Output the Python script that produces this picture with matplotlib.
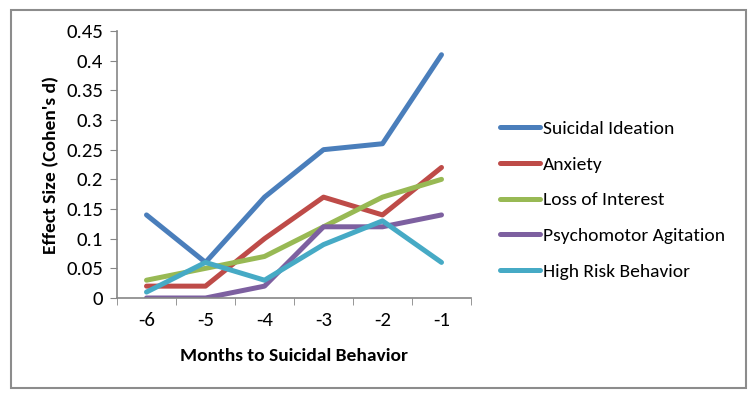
import matplotlib.pyplot as plt
from matplotlib.patches import Rectangle

plt.rcParams['font.family'] = ['Carlito', 'Lato', 'DejaVu Sans']

# data
months = [-6, -5, -4, -3, -2, -1]
suicidal_ideation = [0.14, 0.06, 0.17, 0.25, 0.26, 0.41]
anxiety = [0.02, 0.02, 0.10, 0.17, 0.14, 0.22]
loss_of_interest = [0.03, 0.05, 0.07, 0.12, 0.17, 0.20]
psychomotor = [0.0, 0.0, 0.02, 0.12, 0.12, 0.14]
high_risk = [0.01, 0.06, 0.03, 0.09, 0.13, 0.06]

series = [
    ('Suicidal Ideation', suicidal_ideation, '#4A7EBB'),
    ('Anxiety', anxiety, '#BE4B48'),
    ('Loss of Interest', loss_of_interest, '#98B954'),
    ('Psychomotor Agitation', psychomotor, '#7D60A0'),
    ('High Risk Behavior', high_risk, '#46AAC5'),
]

fig = plt.figure(figsize=(7.56, 4.0), dpi=100)
ax = fig.add_axes([117/756, 1 - 298/400, (471 - 117)/756, (298 - 31)/400])

x = range(1, len(months) + 1)
for name, vals, col in series:
    ax.plot(x, vals, color=col, lw=3.6, label=name, solid_capstyle='round')

axis_col = '#868686'
ax.set_xlim(0.5, len(months) + 0.5)
ax.set_ylim(0, 0.45)
ax.set_yticks([0, 0.05, 0.1, 0.15, 0.2, 0.25, 0.3, 0.35, 0.4, 0.45])
ax.set_yticklabels(['0', '0.05', '0.1', '0.15', '0.2', '0.25', '0.3', '0.35', '0.4', '0.45'])
ax.set_xticks(list(x))
ax.set_xticklabels([str(m) for m in months])
ax.set_xticks([i + 0.5 for i in range(0, len(months) + 1)], minor=True)
ax.tick_params(axis='x', which='major', length=0, pad=10, labelsize=15)
ax.tick_params(axis='x', which='minor', length=5, color=axis_col, direction='out')
ax.tick_params(axis='y', length=5, color=axis_col, labelsize=15, pad=5)
for s in ['top', 'right']:
    ax.spines[s].set_visible(False)
for s in ['left', 'bottom']:
    ax.spines[s].set_color(axis_col)
    ax.spines[s].set_linewidth(1.2)

ax.set_xlabel('Months to Suicidal Behavior', fontweight='bold', fontsize=14, labelpad=14)
ax.set_ylabel("Effect Size (Cohen's d)", fontweight='bold', fontsize=14, labelpad=5)

fig.legend(*ax.get_legend_handles_labels(), loc='center left',
           bbox_to_anchor=(483/756, 1 - 200/400), frameon=False,
           fontsize=14, handlelength=2.05, handletextpad=0.15, labelspacing=0.98)

# outer chart border
fig.patches.append(Rectangle((11/756, 1 - 388/400), (746 - 11)/756, (388 - 10)/400,
                             transform=fig.transFigure, fill=False,
                             edgecolor='#8C8C8C', lw=1.5))

plt.savefig('out.png', dpi=100)
